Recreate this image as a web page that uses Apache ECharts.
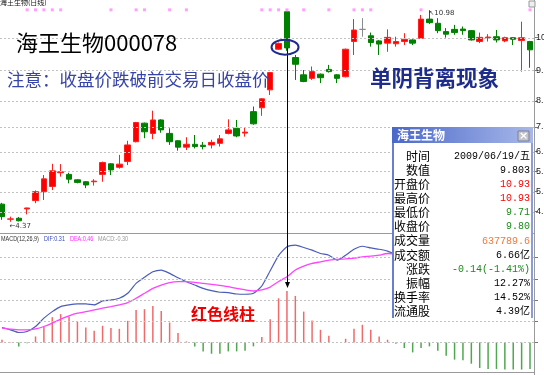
<!DOCTYPE html>
<html><head><meta charset="utf-8">
<script src="https://cdn.jsdelivr.net/npm/echarts@6/dist/echarts.min.js"></script>
<style>html,body{margin:0;padding:0;background:#fff}#c{width:544px;height:375px}</style>
</head><body><div id="c"></div>
<script>
// ---- data ----
const dates = ['2009-04-29','2009-04-30','2009-05-04','2009-05-05','2009-05-06','2009-05-07','2009-05-08','2009-05-11','2009-05-12','2009-05-13',
'2009-05-14','2009-05-15','2009-05-18','2009-05-19','2009-05-20','2009-05-21','2009-05-22','2009-05-25','2009-05-26','2009-05-27',
'2009-06-01','2009-06-02','2009-06-03','2009-06-04','2009-06-05','2009-06-08','2009-06-09','2009-06-10','2009-06-11','2009-06-12',
'2009-06-15','2009-06-16','2009-06-17','2009-06-18','2009-06-19','2009-06-22','2009-06-23','2009-06-24','2009-06-25','2009-06-26',
'2009-06-29','2009-06-30','2009-07-01','2009-07-02','2009-07-03','2009-07-06','2009-07-07','2009-07-08','2009-07-09','2009-07-10',
'2009-07-13','2009-07-14','2009-07-15','2009-07-16','2009-07-17','2009-07-20','2009-07-21','2009-07-22','2009-07-23','2009-07-24',
'2009-07-27','2009-07-28','2009-07-29','2009-07-30'];
const open  = [4.92,4.45,4.48,4.77,5.03,5.31,5.47,5.90,5.85,5.68, 5.62,5.62,5.85,6.18,6.07,6.25,6.87,7.45,7.13,7.55,
               7.13,6.90,6.70,6.79,6.76,6.77,6.82,7.13,7.29,7.14, 7.81,7.93,8.49,9.76,10.93,9.50,8.96,8.85,8.98,9.13,
               8.96,8.90,10.00,10.38,10.18,10.02,9.95,9.93,10.00,10.05, 10.10,10.70,10.57,10.31,10.38,10.39,10.34,10.00,10.12,10.15,
               10.02,10.12,10.03,10.00];
const close = [4.53,4.46,4.40,4.80,5.31,5.71,5.96,5.93,5.70,5.60, 5.52,5.64,6.22,5.99,6.17,6.77,7.47,7.18,7.55,7.24,
               6.87,6.70,6.79,6.72,6.72,6.85,6.96,7.24,7.05,7.17, 7.43,8.21,9.03,9.94,9.80,9.29,8.75,9.06,8.87,9.06,
               8.85,9.76,10.36,10.38,9.97,9.92,10.13,10.00,10.07,9.95, 10.70,10.59,10.34,10.23,10.28,10.34,10.05,10.13,10.14,10.05,
               10.12,10.07,10.12,9.74];
const low   = [4.43,4.37,4.38,4.60,4.95,5.05,5.36,5.78,5.57,5.57, 5.42,5.50,5.62,5.83,6.03,6.14,6.85,6.98,6.95,7.15,
               6.77,6.59,6.61,6.66,6.63,6.66,6.72,7.10,7.01,7.03, 7.40,7.68,8.33,9.74,9.71,8.80,8.73,8.80,8.70,9.03,
               8.70,8.88,9.58,10.15,9.84,9.58,9.68,9.84,9.89,9.89, 10.08,10.55,10.26,10.12,10.21,10.21,10.03,9.95,10.00,9.97,
               9.98,9.89,9.06,9.18];
const high  = [4.96,4.53,4.52,4.81,5.35,5.83,6.18,6.17,5.90,5.70, 5.64,5.70,6.25,6.20,6.46,6.90,7.49,7.47,7.84,7.57,
               7.29,6.92,7.01,7.08,6.86,6.93,7.08,7.57,7.55,7.32, 7.97,8.23,9.05,9.97,10.93,9.58,9.11,9.22,9.00,9.27,
               8.98,9.78,10.70,10.73,10.28,10.05,10.38,10.15,10.26,10.07, 10.83,10.98,10.73,10.42,10.52,10.47,10.36,10.28,10.23,10.36,
               10.15,10.14,10.62,10.02];
const dif = [0.167,0.141,0.111,0.122,0.178,0.271,0.344,0.400,0.419,0.430, 0.430,0.419,0.463,0.474,0.493,0.549,0.660,0.727,0.789,0.808,
             0.771,0.722,0.678,0.641,0.604,0.578,0.560,0.556,0.541,0.538, 0.549,0.630,0.800,0.970,1.067,1.086,1.060,1.030,0.993,0.974,
             0.919,0.974,1.040,1.074,1.055,1.040,1.020,0.983,0.953,0.920, 0.934,0.938,0.904,0.861,0.819,0.795,0.752,0.703,0.667,0.637,
             0.604,0.574,0.544,0.517];
const dea = [0.160,0.149,0.141,0.141,0.152,0.178,0.215,0.260,0.297,0.326, 0.344,0.363,0.382,0.400,0.419,0.444,0.493,0.549,0.604,0.641,
             0.667,0.678,0.678,0.671,0.660,0.649,0.638,0.622,0.604,0.586, 0.574,0.586,0.618,0.680,0.733,0.808,0.852,0.882,0.900,0.919,
             0.927,0.933,0.941,0.956,0.963,0.974,0.993,0.990,0.985,0.975, 0.965,0.960,0.950,0.935,0.915,0.895,0.870,0.845,0.815,0.785,
             0.755,0.725,0.695,0.665];
const macd = [0.030,0.005,-0.044,-0.010,0.067,0.178,0.282,0.316,0.289,0.233, 0.167,0.130,0.186,0.160,0.152,0.241,0.363,0.371,0.408,0.352,
              0.222,0.104,0.011,-0.044,-0.100,-0.126,-0.126,-0.100,-0.100,-0.092, -0.044,0.060,0.260,0.493,0.574,0.519,0.344,0.244,0.141,0.074,
              -0.005,0.041,0.152,0.197,0.141,0.067,0.030,-0.014,-0.063,-0.111, -0.063,-0.044,-0.092,-0.148,-0.192,-0.200,-0.237,-0.285,-0.296,-0.296,
              -0.303,-0.303,-0.303,-0.296];
const priceGrid = [10.12, 9.11, 8.15, 7.33, 6.56, 5.94, 5.31, 4.69];
const macdGrid = [0.95, 0.71, 0.47, 0.24, 0];
const markIdx = [3,4,5,6,7,13,16,17,20,22,31,32,33,34,36,39,42,43,44,50,63];
const signalIdx = 34;
const infoLabels = ['时间','数值','开盘价','最高价','最低价','收盘价','成交量','成交额','涨跌','振幅','换手率','流通股'];
const infoValues = ['2009/06/19/五','9.803','10.93','10.93','9.71','9.80','637789.6','6.66亿','-0.14(-1.41%)','12.27%','14.52%','4.39亿'];
const infoColors = ['#000','#000','#ff0000','#ff0000','#1a8a1a','#1a8a1a','#f07a3a','#000','#1a8a1a','#000','#000','#000'];
const macdHeader = ['MACD(12,26,9)', 'DIF:0.31', 'DEA:0.46', 'MACD:-0.30'];

// ---- chart ----
(function () {
const CJK = '"Noto Sans CJK SC", sans-serif';
const PMIN = 4.05, PMAX = 11.11;
const chart = echarts.init(document.getElementById('c'), null, {renderer: 'canvas'});
const candleData = dates.map((d, i) => [open[i], close[i], low[i], high[i]]);

chart.setOption({
  animation: false,
  grid: [{left: 2, right: 14, top: 6, height: 226, outerBoundsMode: 'none', containLabel: false},
         {left: 2, right: 14, top: 243, height: 129, outerBoundsMode: 'none', containLabel: false}],
  xAxis: [
    {type: 'category', gridIndex: 0, data: dates, boundaryGap: false, show: false},
    {type: 'category', gridIndex: 1, data: dates, boundaryGap: false, show: false}
  ],
  yAxis: [
    {type: 'value', gridIndex: 0, min: PMIN, max: PMAX, position: 'right', offset: 4,
     axisLine: {show: false}, splitLine: {show: false},
     axisTick: {show: true, customValues: priceGrid, length: 4, lineStyle: {color: '#777'}},
     axisLabel: {show: true, customValues: priceGrid, fontSize: 9, color: '#222', margin: 2,
                 fontFamily: 'Liberation Sans', formatter: v => v.toFixed(2)}},
    {type: 'value', gridIndex: 1, min: -0.33, max: 1.11, position: 'right', offset: 4,
     axisLine: {show: false}, splitLine: {show: false},
     axisTick: {show: true, customValues: macdGrid, length: 4, lineStyle: {color: '#777'}},
     axisLabel: {show: false}}
  ],
  series: [
    {type: 'candlestick', xAxisIndex: 0, yAxisIndex: 0, data: candleData, barWidth: 6, clip: false, z: 3,
     itemStyle: {color: '#ff0000', color0: '#008000', borderColor: '#ff2020', borderColor0: '#008000',
                 borderColorDoji: '#8a8a8a', borderWidth: 1},
     markPoint: {symbol: 'rect', symbolSize: 0, silent: true,
       data: [
         {type: 'max', valueDim: 'highest',
          label: {show: true, position: 'right', distance: 0, offset: [-1, 3], fontSize: 7, color: '#333',
                  fontFamily: 'DejaVu Sans', formatter: p => '\u2196' + Number(p.value).toFixed(2)}},
         {type: 'min', valueDim: 'lowest',
          label: {show: true, position: 'right', distance: 0, offset: [-1, 4], fontSize: 7, color: '#333',
                  fontFamily: 'DejaVu Sans', formatter: p => '\u2190' + Number(p.value).toFixed(2)}}
       ]}},
    {type: 'scatter', xAxisIndex: 0, yAxisIndex: 0, symbol: 'rect', symbolSize: 3, silent: true, z: 4,
     itemStyle: {color: '#ff88ff'}, data: markIdx.map(i => [i, PMAX - 0.12])},
    {type: 'bar', xAxisIndex: 1, yAxisIndex: 1, data: macd, barWidth: 1.5, clip: false, z: 2,
     itemStyle: {color: p => p.value >= 0 ? '#f06a6a' : '#4fa84f'}},
    {type: 'line', xAxisIndex: 1, yAxisIndex: 1, data: dif, symbol: 'none', smooth: 0.2, z: 3,
     lineStyle: {color: '#4b5bb8', width: 1.2}},
    {type: 'line', xAxisIndex: 1, yAxisIndex: 1, data: dea, symbol: 'none', smooth: 0.2, z: 3,
     lineStyle: {color: '#ff44ff', width: 1.3}}
  ]
});

// ---- annotations (placed from data through the axes) ----
const P = (i, v) => chart.convertToPixel({gridIndex: 0}, [i, v]);
const M = (i, v) => chart.convertToPixel({gridIndex: 1}, [i, v]);
const mid = (close[signalIdx - 1] + low[signalIdx]) / 2;
const a = P(signalIdx - 1, mid);
const b = P(signalIdx, mid);
const ex = a[0] + 0.77 * (b[0] - a[0]), ey = a[1];
const cTop = P(signalIdx, close[signalIdx]);
const tip = M(signalIdx, macd[signalIdx]);
const tipY = tip[1] - 3;
const ax = Math.round(cTop[0]) + 0.5;

const gy = [...priceGrid.map(v => P(signalIdx, v)[1]), ...macdGrid.map(v => M(signalIdx, v)[1])];
const gridLines = gy.map(y => ({type: 'line', z: 10, silent: true,
  shape: {x1: 0, y1: Math.round(y) + 0.5, x2: 534, y2: Math.round(y) + 0.5},
  style: {stroke: '#c2c2c2', lineWidth: 1, lineDash: [2, 2]}}));

const txt = (text, x, y, size, color, weight) => ({
  type: 'text', z: 50, style: {text, x, y, fill: color, font: (weight || 'normal') + ' ' + size + 'px ' + CJK,
  verticalAlign: 'middle', align: 'left'}});

const BZ = 60;
const infoChildren = [
  {type: 'rect', z: BZ, shape: {x: 0, y: 0, width: 141, height: 191}, style: {fill: '#fff'}},
  {type: 'rect', z: BZ + 1, shape: {x: 0, y: 0, width: 141, height: 16},
   style: {fill: new echarts.graphic.LinearGradient(0, 0, 1, 0, [{offset: 0, color: '#4a68c8'}, {offset: 1, color: '#a8b8ea'}])}},
  {type: 'text', z: BZ + 2, style: {text: '海王生物', x: 5, y: 8.5, fill: '#fff', font: 'bold 12px ' + CJK, verticalAlign: 'middle'}},
  {type: 'rect', z: BZ + 2, shape: {x: 126, y: 4, width: 11, height: 10}, style: {fill: '#c2c4cc', stroke: '#80808e', lineWidth: 1}},
  {type: 'text', z: BZ + 3, style: {text: '×', x: 131.5, y: 9, fill: '#fff', font: 'bold 11px "DejaVu Sans"', align: 'center', verticalAlign: 'middle'}},
  {type: 'rect', z: BZ + 1, shape: {x: 0, y: 16, width: 2, height: 175}, style: {fill: '#6a7ed0'}},
  {type: 'rect', z: BZ + 1, shape: {x: 139, y: 16, width: 2, height: 175}, style: {fill: '#8d9bd6'}}
];
infoLabels.forEach((l, i) => {
  const y = 29 + 14.15 * i;
  infoChildren.push({type: 'text', z: BZ + 2, style: {text: l, x: 38, y, fill: '#000', font: '12px ' + CJK, align: 'right', verticalAlign: 'middle'}});
  infoChildren.push({type: 'text', z: BZ + 2, style: {text: infoValues[i], x: 138, y, fill: infoColors[i],
    font: '10px "Liberation Mono", ' + CJK, align: 'right', verticalAlign: 'middle'}});
});

const HF = '7px "Liberation Sans", sans-serif';
const hdrX = [1, 44, 70, 98], hdrC = ['#333', '#3a4ab8', '#ff33ff', '#999'];
const hdr = macdHeader.map((t, i) => ({type: 'text', z: 50, x: hdrX[i], y: 239, scaleX: 0.78,
  style: {text: t, x: 0, y: 0, fill: hdrC[i], font: HF, verticalAlign: 'middle'}}));

chart.setOption({graphic: {elements: [
  ...gridLines,
  {type: 'line', z: 40, shape: {x1: 0, y1: 233.5, x2: 534, y2: 233.5}, style: {stroke: '#9a9a9a', lineWidth: 1}},
  {type: 'line', z: 40, shape: {x1: 0, y1: 372.5, x2: 534, y2: 372.5}, style: {stroke: '#9a9a9a', lineWidth: 1}},
  {type: 'line', z: 40, shape: {x1: 534.5, y1: 0, x2: 534.5, y2: 375}, style: {stroke: '#9a9a9a', lineWidth: 1}},
  {type: 'rect', z: 40, shape: {x: 529, y: 1, width: 6, height: 6}, style: {fill: '#eee', stroke: '#999', lineWidth: 1}},
  txt('海王生物(日线)', 0, 2, 7, '#111'),
  txt('海王生物000078', 16, 43, 22, '#000'),
  txt('注意：收盘价跌破前交易日收盘价', 7, 79, 17.5, '#3745a8'),
  txt('单阴背离现象', 370, 77.5, 21.5, '#1f2d8a', 'bold'),
  txt('红色线柱', 191, 314, 16, '#ee0000', 'bold'),
  ...hdr,
  {type: 'line', z: 45, shape: {x1: ax, y1: cTop[1], x2: ax, y2: tipY - 5}, style: {stroke: '#000', lineWidth: 1}},
  {type: 'polygon', z: 45, shape: {points: [[ax - 2.5, tipY - 6], [ax + 2.5, tipY - 6], [ax, tipY]]}, style: {fill: '#000'}},
  {type: 'ellipse', z: 45, shape: {cx: ex, cy: ey, rx: 13.5, ry: 7.5}, style: {fill: 'none', stroke: '#1e2a8c', lineWidth: 2}},
  {type: 'group', x: 392, y: 127, z: BZ, children: infoChildren}
]}});
})();
</script>
</body></html>
